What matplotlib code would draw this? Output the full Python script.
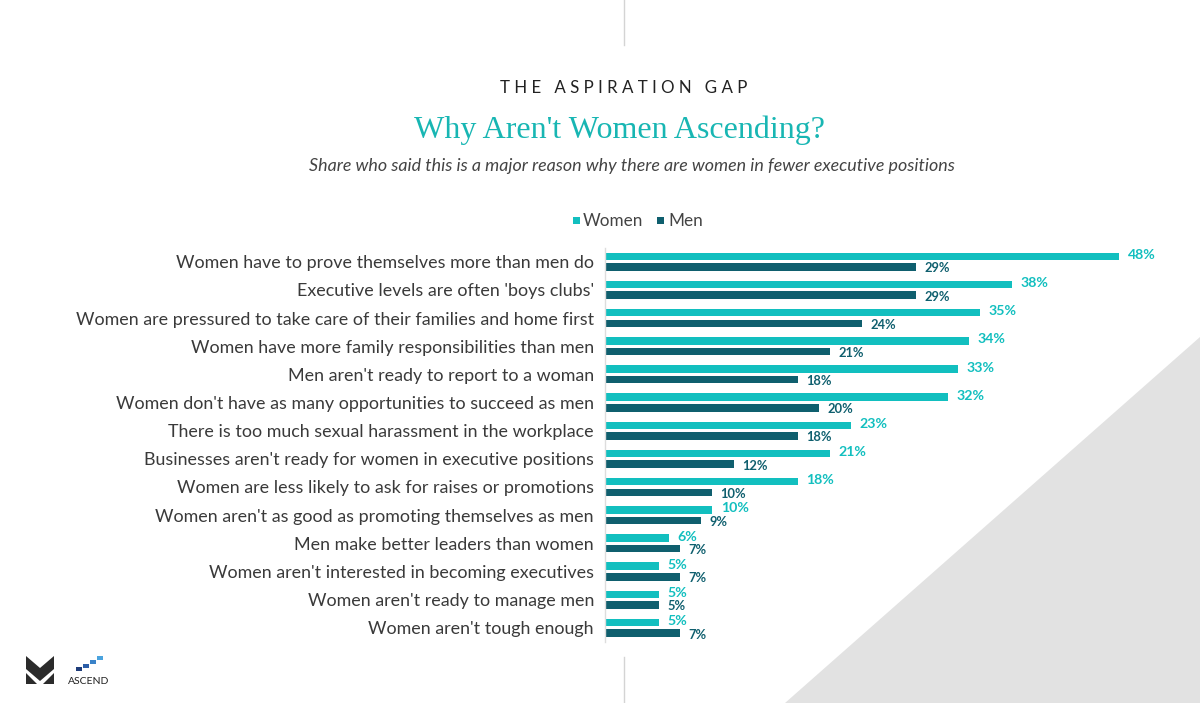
import matplotlib
matplotlib.use("Agg")
import matplotlib.pyplot as plt
import numpy as np
from matplotlib.patches import Polygon, Rectangle

# ---- data -----------------------------------------------------------------
reasons = [
    "Women have to prove themselves more than men do",
    "Executive levels are often 'boys clubs'",
    "Women are pressured to take care of their families and home first",
    "Women have more family responsibilities than men",
    "Men aren't ready to report to a woman",
    "Women don't have as many opportunities to succeed as men",
    "There is too much sexual harassment in the workplace",
    "Businesses aren't ready for women in executive positions",
    "Women are less likely to ask for raises or promotions",
    "Women aren't as good as promoting themselves as men",
    "Men make better leaders than women",
    "Women aren't interested in becoming executives",
    "Women aren't ready to manage men",
    "Women aren't tough enough",
]
women = [48, 38, 35, 34, 33, 32, 23, 21, 18, 10, 6, 5, 5, 5]
men = [29, 29, 24, 21, 18, 20, 18, 12, 10, 9, 7, 7, 5, 7]

WOMEN_C = "#12bfbf"
MEN_C = "#0f5f6e"
TEXT_C = "#3a3a3a"
W, H = 1200, 703

plt.rcParams["font.family"] = ["Lato", "DejaVu Sans"]
fig = plt.figure(figsize=(W / 100, H / 100), dpi=100)
fig.patch.set_facecolor("white")

# background overlay axes in pixel coords (y down)
bg = fig.add_axes([0, 0, 1, 1], zorder=0)
bg.set_xlim(0, W)
bg.set_ylim(H, 0)
bg.axis("off")

# grey triangle bottom right
bg.add_patch(Polygon([(1200, 337), (785, 703), (1200, 703)], closed=True,
                     facecolor="#e2e2e2", edgecolor="none"))
# thin vertical guide lines top and bottom
bg.plot([624, 624], [0, 45], color="#d4d4d4", lw=1)
bg.plot([624, 624], [657, 703], color="#d4d4d4", lw=1)

# logo: chevron mark
bg.add_patch(Polygon([(26, 656), (40, 668), (54, 656), (54, 669), (40, 681), (26, 669)],
                     closed=True, facecolor="#2b2b2b", edgecolor="none"))
bg.add_patch(Polygon([(26, 673), (37, 684), (26, 684)], closed=True,
                     facecolor="#2b2b2b", edgecolor="none"))
bg.add_patch(Polygon([(54, 673), (43, 684), (54, 684)], closed=True,
                     facecolor="#2b2b2b", edgecolor="none"))
# ascend staircase squares
for (sx, sy), c in zip([(76, 667), (83, 664), (90, 660), (97, 656)],
                       ["#1f3d7a", "#2c5ea8", "#3a82c8", "#4aa3de"]):
    bg.add_patch(Rectangle((sx, sy), 6, 4, facecolor=c, edgecolor="none"))
bg.text(89, 681, "ASCEND", ha="center", va="center", fontsize=7.5,
        color="#222222", family=["Liberation Sans Narrow", "Lato", "DejaVu Sans"])

# headings
bg.text(624, 88, "   ".join(" ".join(w) for w in "THE ASPIRATION GAP".split()),
        ha="center", va="center", fontsize=12.2, color="#222222")
bg.text(619, 130, "Why Aren't Women Ascending?", ha="center", va="center",
        fontsize=23, color="#18b6b3", family=["Liberation Serif", "DejaVu Serif"])
bg.text(632, 166, "Share who said this is a major reason why there are women in fewer executive positions",
        ha="center", va="center", fontsize=12.9, style="italic", color="#444444")

# legend
bg.add_patch(Rectangle((573, 217), 7, 7, facecolor=WOMEN_C, edgecolor="none"))
bg.text(583, 221, "Women", ha="left", va="center", fontsize=12.3, color="#444444")
bg.add_patch(Rectangle((657, 217), 7, 7, facecolor=MEN_C, edgecolor="none"))
bg.text(668, 221, "Men", ha="left", va="center", fontsize=12.3, color="#444444")

# ---- bar chart ------------------------------------------------------------
x0, x1 = 605, 605 + 55 * 10.71
y_top, y_bot = 247.6, 641.9
ax = fig.add_axes([x0 / W, 1 - y_bot / H, (x1 - x0) / W, (y_bot - y_top) / H],
                  zorder=1)
ax.patch.set_alpha(0)

y = np.arange(len(reasons))
bh = 0.27
off = 0.19
ax.barh(y - off, women, height=bh, color=WOMEN_C)
ax.barh(y + off, men, height=bh, color=MEN_C)

for yi, v in zip(y, women):
    ax.text(v + 0.8, yi - off - 0.05, f"{v}%", ha="left", va="center",
            fontsize=10.2, fontweight="bold", color=WOMEN_C)
for yi, v in zip(y, men):
    ax.text(v + 0.8, yi + off + 0.05, f"{v}%", ha="left", va="center",
            fontsize=9.3, fontweight="bold", color=MEN_C)

ax.set_xlim(0, 55)
ax.set_ylim(len(reasons) - 0.5, -0.5)
ax.set_yticks(y)
ax.set_yticklabels(reasons, fontsize=12.9, color=TEXT_C)
ax.tick_params(axis="y", length=0, pad=8)
ax.set_xticks([])
for s in ["top", "right", "bottom"]:
    ax.spines[s].set_visible(False)
ax.spines["left"].set_color("#dddddd")
ax.spines["left"].set_linewidth(1)

fig.savefig("out.png", dpi=100, facecolor="white")
